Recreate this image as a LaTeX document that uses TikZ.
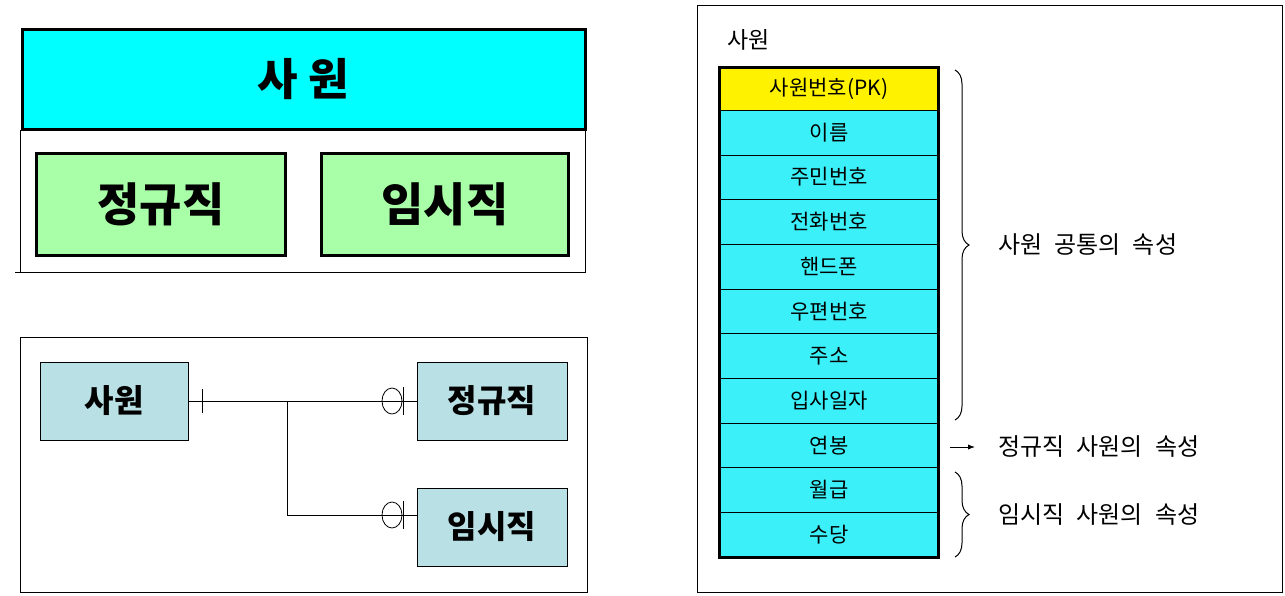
\documentclass[tikz,border=0pt]{standalone}
\usepackage{fontspec}
\setmainfont{Noto Sans CJK KR}
\usetikzlibrary{decorations.pathreplacing,arrows.meta}
\definecolor{aqua}{RGB}{0,255,255}
\definecolor{lightaqua}{RGB}{60,240,250}
\definecolor{paleent}{RGB}{185,224,228}
\definecolor{mint}{RGB}{168,255,168}
\newcommand\widesp{\spaceskip=12pt\relax}
\tikzset{
  ent/.style={draw, line width=0.8pt, fill=paleent, font=\fontsize{32}{34}\selectfont\bfseries},
  cell/.style={draw, fill=lightaqua, minimum width=218pt, minimum height=44.7pt, inner sep=0pt, font=\fontsize{21}{23}\selectfont},
  note/.style={anchor=west, font=\fontsize{24}{26}\selectfont},
  brc/.style={decorate, decoration={brace, amplitude=14pt}, line width=1pt}
}
\begin{document}
\begin{tikzpicture}[x=1pt, y=-1pt]
    \useasboundingbox (0,0) rectangle (1285,595);

    % Super/sub type box
    \draw (20,130) -- (20,272) -- (585,272) -- (585,130);
    \draw (15,272) -- (20,272);
    \node[draw, line width=3pt, fill=aqua, minimum width=563pt, minimum height=100pt, inner sep=0pt,
          font=\fontsize{44}{46}\selectfont\bfseries] (super) at (303.5,79) {사 원};
    \node[draw, line width=3pt, fill=mint, minimum width=249pt, minimum height=102pt, inner sep=0pt,
          font=\fontsize{46}{48}\selectfont\bfseries] (reg) at (161,204) {정규직};
    \node[draw, line width=3pt, fill=mint, minimum width=247pt, minimum height=102pt, inner sep=0pt,
          font=\fontsize{46}{48}\selectfont\bfseries] (tmp) at (445,204) {임시직};

    % ER notation
    \draw (20,337) rectangle (587,592);
    \node[ent, minimum width=148pt, minimum height=78pt] (emp) at (114,401) {사원};
    \node[ent, minimum width=150pt, minimum height=78pt] (regE) at (492,401) {정규직};
    \node[ent, minimum width=150pt, minimum height=78pt] (tmpE) at (492,527) {임시직};
    \coordinate (split) at (287,401);
    \draw[line width=0.8pt] (emp.east) -- (regE.west);
    \draw[line width=0.8pt] (split) |- (tmpE.west |- 0,515) coordinate (tend);
    \draw[line width=0.8pt] (202,389) -- (202,413);
    \foreach \yy in {401,515} {
      \draw[line width=0.8pt] (392,\yy) ellipse (10 and 13);
      \draw[line width=0.8pt] (403,\yy-14) -- (403,\yy+14);
    }

    % Attribute table
    \draw (697,5) rectangle (1282,592);
    \node[anchor=west, font=\fontsize{23}{25}\selectfont] (tname) at (724,40) {사원};
    \node[cell, fill=yellow, minimum height=42pt] (c0) at (829,89) {사원번호(PK)};
    \foreach \t [count=\i] in {이름,주민번호,전화번호,핸드폰,우편번호,주소,입사일자,연봉,월급,수당} {
      \node[cell] (c\i) at (829,{110+44.7*(\i-0.5)}) {\t};
    }
    \draw[line width=3pt] (c0.north west) rectangle (c10.south east);

    \draw[brc] (955,70) -- (955,420);
    \node[note] (n1) at (995,245) {\widesp 사원 공통의 속성};
    \draw[-{Latex[length=7pt]}, line width=1pt] (950,447) -- (975,447);
    \node[note] (n2) at (995,447) {\widesp 정규직 사원의 속성};
    \draw[brc] (955,472) -- (955,557);
    \node[note] (n3) at (995,515) {\widesp 임시직 사원의 속성};
\end{tikzpicture}
\end{document}
